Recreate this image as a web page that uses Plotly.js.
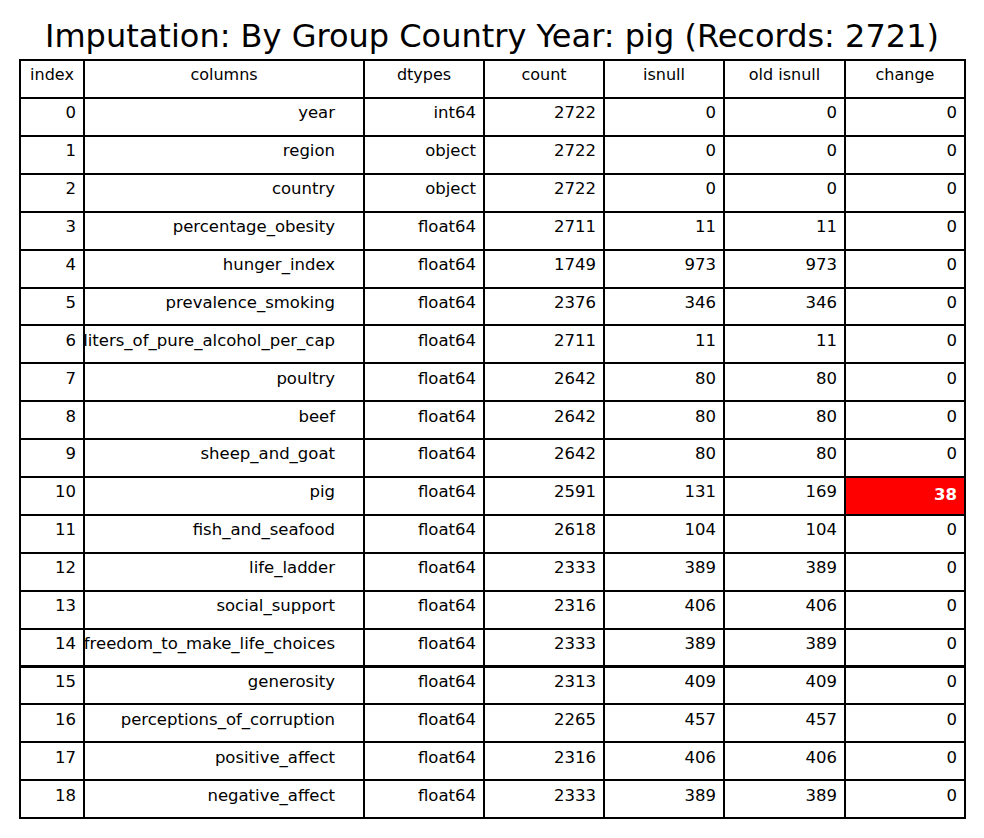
<!DOCTYPE html>
<html>
<head>
<meta charset="utf-8">
<script src="https://cdn.plot.ly/plotly-3.0.1.min.js"></script>
<style>body{margin:0;background:#fff}#chart{width:984px;height:838px}</style>
</head>
<body>
<div id="chart"></div>
<script>
var headers = ['index', 'columns', 'dtypes', 'count', 'isnull', 'old isnull', 'change'];
var indexCol = [0,1,2,3,4,5,6,7,8,9,10,11,12,13,14,15,16,17,18];
var columnNames = ['year','region','country','percentage_obesity','hunger_index','prevalence_smoking',
  'liters_of_pure_alcohol_per_cap','poultry','beef','sheep_and_goat','pig','fish_and_seafood',
  'life_ladder','social_support','freedom_to_make_life_choices','generosity',
  'perceptions_of_corruption','positive_affect','negative_affect'];
var dtypes = ['int64','object','object','float64','float64','float64','float64','float64','float64',
  'float64','float64','float64','float64','float64','float64','float64','float64','float64','float64'];
var counts = [2722,2722,2722,2711,1749,2376,2711,2642,2642,2642,2591,2618,2333,2316,2333,2313,2265,2316,2333];
var isnull = [0,0,0,11,973,346,11,80,80,80,131,104,389,406,389,409,457,406,389];
var oldIsnull = [0,0,0,11,973,346,11,80,80,80,169,104,389,406,389,409,457,406,389];
var change = [0,0,0,0,0,0,0,0,0,0,38,0,0,0,0,0,0,0,0];

var pad4 = '\u00a0\u00a0\u00a0\u00a0';
var changeText = change.map(function(v){ return v !== 0 ? '<b>' + v + '</b>' : '' + v; });
var changeFill = change.map(function(v){ return v !== 0 ? '#ff0000' : '#ffffff'; });
var changeFont = change.map(function(v){ return v !== 0 ? '#ffffff' : '#000000'; });
var white = indexCol.map(function(){ return '#ffffff'; });
var black = indexCol.map(function(){ return '#000000'; });
function p(arr, s){ return arr.map(function(v){ return v + s; }); }

Plotly.newPlot('chart', [{
  type: 'table',
  columnwidth: [64, 280, 120, 120, 120, 121, 120],
  domain: {x: [20/984, 965/984], y: [1 - 821/838, 1 - 60/838]},
  header: {
    values: headers,
    align: 'center',
    height: 38,
    line: {color: '#000', width: 2},
    fill: {color: '#fff'},
    font: {family: 'DejaVu Sans', size: 16, color: '#000'}
  },
  cells: {
    values: [indexCol, p(columnNames, pad4), dtypes, counts, isnull, oldIsnull, changeText],
    align: 'right',
    height: 37.9,
    line: {color: '#000', width: 2},
    fill: {color: [white, white, white, white, white, white, changeFill]},
    font: {family: 'DejaVu Sans', size: 16.5, color: [black, black, black, black, black, black, changeFont]}
  }
}], {
  width: 984, height: 838,
  margin: {l: 0, r: 0, t: 0, b: 0},
  paper_bgcolor: '#fff',
  title: {text: 'Imputation: By Group Country Year: pig (Records: 2721)', x: 0.5, xanchor: 'center', y: 1 - 36/838, yanchor: 'middle',
    font: {family: 'DejaVu Sans', size: 32, color: '#000'}}
}, {displayModeBar: false});
</script>
</body>
</html>
